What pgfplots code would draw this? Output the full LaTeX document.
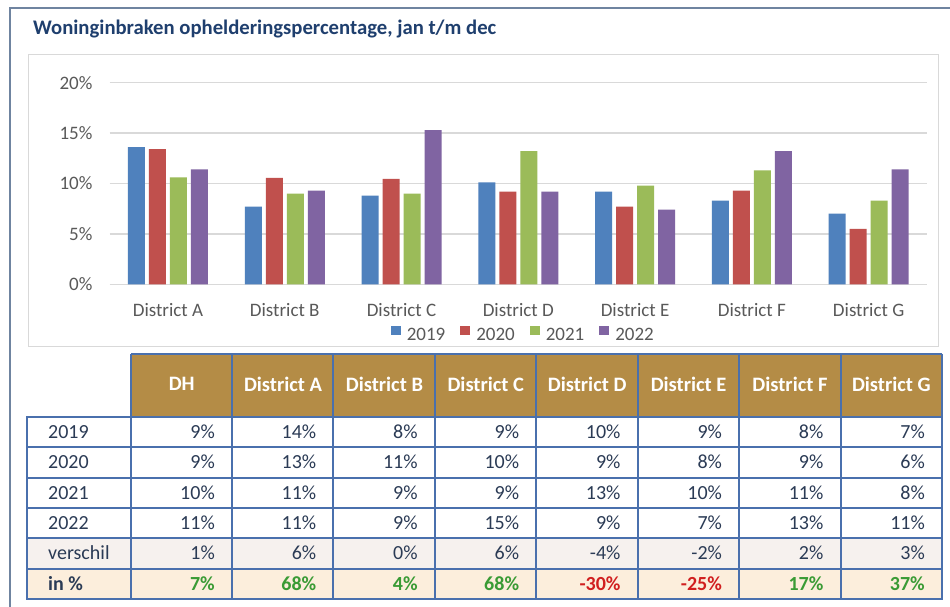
\documentclass[border=0pt]{standalone}
\usepackage{pgfplots}
\usepackage{pgfplotstable}
\pgfplotsset{compat=1.18}
\usepackage{fontspec}
\setmainfont{Carlito}
\definecolor{c19}{HTML}{4F81BD}
\definecolor{c20}{HTML}{C0504D}
\definecolor{c21}{HTML}{9BBB59}
\definecolor{c22}{HTML}{8064A2}
\definecolor{gridc}{HTML}{D9D9D9}
\definecolor{txt}{HTML}{595959}
\definecolor{titlec}{HTML}{1F3F6E}
\definecolor{hdr}{HTML}{B48C46}
\definecolor{tline}{HTML}{4A70AD}
\definecolor{tval}{HTML}{2B3B55}
\definecolor{framec}{HTML}{6F84A0}
\definecolor{rowv}{HTML}{F6F1EE}
\definecolor{rowp}{HTML}{FCEEDC}
\definecolor{pos}{HTML}{3A9B35}
\definecolor{neg}{HTML}{D11F1F}

\pgfplotstableread{
x y19 y20 y21 y22
0 13.6 13.4 10.6 11.4
1 7.7 10.55 9.0 9.3
2 8.8 10.45 9.0 15.3
3 10.1 9.2 13.2 9.2
4 9.2 7.7 9.8 7.4
5 8.3 9.3 11.3 13.2
6 7.0 5.5 8.3 11.4
}\data

\begin{document}
\begin{tikzpicture}
\path[use as bounding box] (0pt,0pt) rectangle (950pt,607pt);
\begin{scope}[shift={(0pt,607pt)}, x=1pt, y=-1pt]
  \fill[white] (0,0) rectangle (950,607);
  \draw[framec, line width=2.5pt] (10,607) -- (10,8) -- (950,8);
  \draw[gridc, line width=1pt] (28,55) rectangle (938,347);
  \node[anchor=base west, inner sep=0pt, font=\fontsize{20.7}{24}\selectfont\bfseries, text=titlec] at (33,35) {Woninginbraken ophelderingspercentage, jan t/m dec};
\end{scope}

\begin{axis}[
  at={(109.6pt,322.7pt)}, anchor=south west,
  width=817.4pt, height=201.6pt, scale only axis,
  xmin=-0.5, xmax=6.5, ymin=0, ymax=20,
  ybar=4pt, bar width=17pt,
  axis line style={draw=none},
  major tick length=0pt,
  xtick={0,...,6},
  xticklabels={District A,District B,District C,District D,District E,District F,District G},
  ytick={0,5,10,15,20},
  yticklabel={\pgfmathprintnumber[assume math mode=true]{\tick}\%},
  ymajorgrids, grid style={gridc, line width=1.3pt},
  tick label style={font=\fontsize{19}{21}\selectfont, text=txt},
  yticklabel style={inner sep=0pt, anchor=east, xshift=-17pt},
  xticklabel style={inner sep=0pt, anchor=north, yshift=-19pt},
  legend style={at={(0.5,0)}, anchor=north, yshift=-42pt, xshift=5pt, draw=none, fill=none,
    inner sep=0pt, font=\fontsize{19}{21}\selectfont, text=txt,
    /tikz/every even column/.append style={column sep=13pt},
    /tikz/every odd column/.append style={column sep=4pt}},
  legend columns=-1,
  legend image code/.code={\fill[#1,draw=none] (0pt,0pt) rectangle (10pt,9pt);},
]
\addplot[fill=c19, draw=none] table[x=x, y=y19] {\data};
\addplot[fill=c20, draw=none] table[x=x, y=y20] {\data};
\addplot[fill=c21, draw=none] table[x=x, y=y21] {\data};
\addplot[fill=c22, draw=none] table[x=x, y=y22] {\data};
\legend{2019,2020,2021,2022}
\end{axis}

\begin{scope}[shift={(0pt,607pt)}, x=1pt, y=-1pt]
  \fill[hdr] (131,354) rectangle (942,417);
  \fill[rowv] (27,538) rectangle (942,569);
  \fill[rowp] (27,569) rectangle (942,599);
  \begin{scope}[tline, line width=2pt]
    \draw (131,354) -- (942,354);
    \draw (131,354) -- (131,599);
    \foreach \i in {0,...,7} \draw ({232+\i*101.43},354) -- ({232+\i*101.43},599);
    \draw (27,417) rectangle (942,599);
    \foreach \y in {447,478,508,538,569} \draw (27,\y) -- (942,\y);
  \end{scope}
  % header
  \foreach \h [count=\i] in {DH,District A,District B,District C,District D,District E,District F,District G}
    \node[text=white, font=\fontsize{20.5}{23}\selectfont\bfseries, inner sep=0pt] at ({131+(\i-0.5)*101.38},384) {\h};
  % row labels
  \node[anchor=base west, inner sep=0pt, text=tval, font=\fontsize{20}{22}\selectfont] at (48,438.5) {2019};
  \node[anchor=base west, inner sep=0pt, text=tval, font=\fontsize{20}{22}\selectfont] at (48,469) {2020};
  \node[anchor=base west, inner sep=0pt, text=tval, font=\fontsize{20}{22}\selectfont] at (48,499.5) {2021};
  \node[anchor=base west, inner sep=0pt, text=tval, font=\fontsize{20}{22}\selectfont] at (48,529.5) {2022};
  \node[anchor=base west, inner sep=0pt, text=tval, font=\fontsize{20}{22}\selectfont] at (48,560) {verschil};
  \node[anchor=base west, inner sep=0pt, text=tval, font=\fontsize{20}{22}\selectfont\bfseries] at (48,590.5) {in \%};
  % values
  \foreach \v [count=\i] in {9\%,14\%,8\%,9\%,10\%,9\%,8\%,7\%}
    \node[anchor=base east, inner sep=0pt, text=tval, font=\fontsize{20}{22}\selectfont] at ({232+(\i-1)*101.43-17},438.5) {\v};
  \foreach \v [count=\i] in {9\%,13\%,11\%,10\%,9\%,8\%,9\%,6\%}
    \node[anchor=base east, inner sep=0pt, text=tval, font=\fontsize{20}{22}\selectfont] at ({232+(\i-1)*101.43-17},469) {\v};
  \foreach \v [count=\i] in {10\%,11\%,9\%,9\%,13\%,10\%,11\%,8\%}
    \node[anchor=base east, inner sep=0pt, text=tval, font=\fontsize{20}{22}\selectfont] at ({232+(\i-1)*101.43-17},499.5) {\v};
  \foreach \v [count=\i] in {11\%,11\%,9\%,15\%,9\%,7\%,13\%,11\%}
    \node[anchor=base east, inner sep=0pt, text=tval, font=\fontsize{20}{22}\selectfont] at ({232+(\i-1)*101.43-17},529.5) {\v};
  \foreach \v [count=\i] in {1\%,6\%,0\%,6\%,-4\%,-2\%,2\%,3\%}
    \node[anchor=base east, inner sep=0pt, text=tval, font=\fontsize{20}{22}\selectfont] at ({232+(\i-1)*101.43-17},560) {\v};
  \foreach \c/\v [count=\i] in {pos/7\%,pos/68\%,pos/4\%,pos/68\%,neg/-30\%,neg/-25\%,pos/17\%,pos/37\%}
    \node[anchor=base east, inner sep=0pt, text=\c, font=\fontsize{20}{22}\selectfont\bfseries] at ({232+(\i-1)*101.43-17},590.5) {\v};
\end{scope}
\end{tikzpicture}
\end{document}
